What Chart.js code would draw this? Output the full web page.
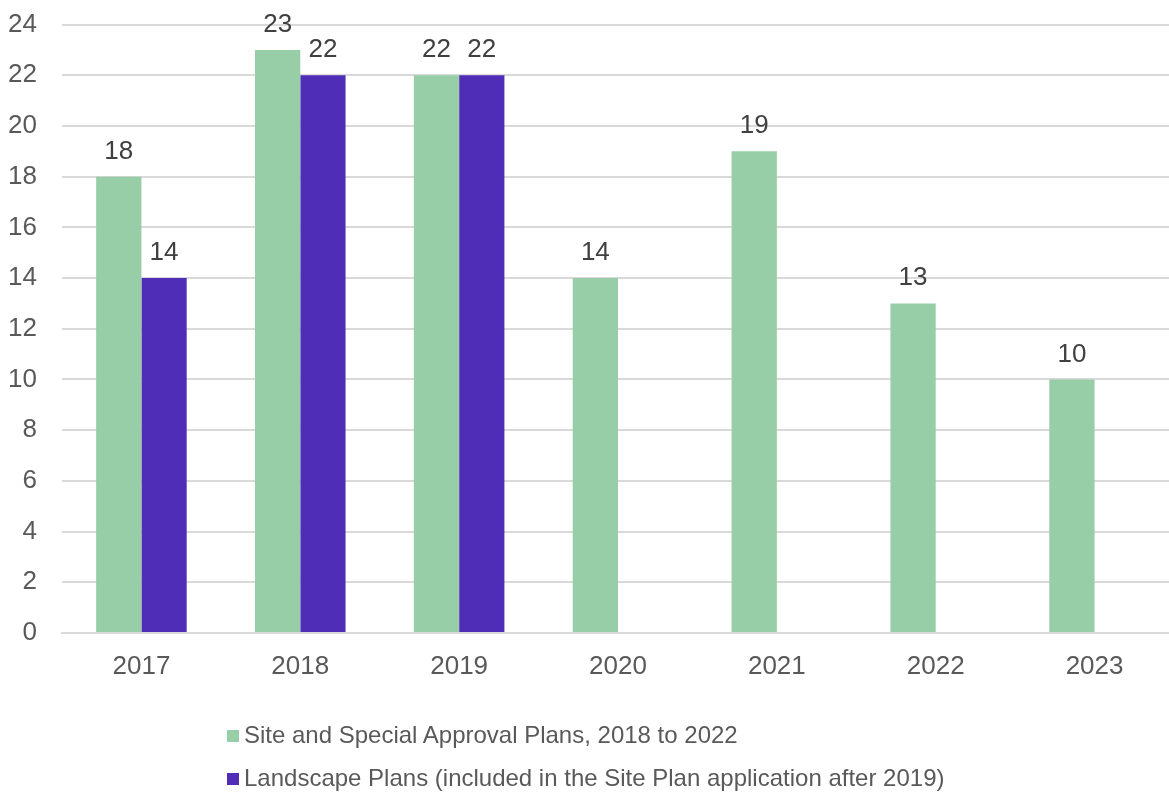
<!DOCTYPE html>
<html>
<head>
<meta charset="utf-8">
<script src="https://cdn.jsdelivr.net/npm/chart.js@4/dist/chart.umd.min.js"></script>
<style>
  html, body { margin: 0; padding: 0; background: #fff; overflow: hidden; width: 1169px; height: 796px; }
  #wrap { position: absolute; left: 0; top: -16px; width: 1175px; height: 716px; }
  #legend { position: absolute; left: 0; top: 0; width: 1169px; height: 796px; pointer-events: none;
            font-family: "Liberation Sans", Arial, sans-serif; font-size: 24px; color: #595959; }
  .item { position: absolute; left: 227px; line-height: 28px; white-space: nowrap; }
  .sw { display: inline-block; width: 12px; height: 12px; margin-right: 5px; vertical-align: 1px; }
</style>
</head>
<body>
<div id="wrap"><canvas id="c" width="1175" height="716"></canvas></div>
<div id="legend"></div>
<script>
const categories = ["2017", "2018", "2019", "2020", "2021", "2022", "2023"];
const sitePlans = [18, 23, 22, 14, 19, 13, 10];
const landscapePlans = [14, 22, 22, null, null, null, null];
const seriesNames = ["Site and Special Approval Plans, 2018 to 2022",
                     "Landscape Plans (included in the Site Plan application after 2019)"];
const seriesColors = ["#98CEA7", "#4F2DB7"];

const FONT = "'Liberation Sans', Arial, sans-serif";

const valueLabels = {
  id: 'valueLabels',
  afterDatasetsDraw(chart) {
    const ctx = chart.ctx;
    ctx.save();
    ctx.font = "26px " + FONT;
    ctx.fillStyle = "#404040";
    ctx.textAlign = "center";
    ctx.textBaseline = "alphabetic";
    chart.data.datasets.forEach((ds, i) => {
      const meta = chart.getDatasetMeta(i);
      meta.data.forEach((bar, j) => {
        const v = ds.data[j];
        if (v === null || v === undefined) return;
        ctx.fillText(String(v), bar.x, bar.y - 18);
      });
    });
    ctx.restore();
  }
};

new Chart(document.getElementById('c'), {
  type: 'bar',
  data: {
    labels: categories,
    datasets: [
      { label: seriesNames[0], data: sitePlans, backgroundColor: seriesColors[0] },
      { label: seriesNames[1], data: landscapePlans, backgroundColor: seriesColors[1] }
    ]
  },
  options: {
    responsive: false,
    animation: false,
    layout: { padding: { top: 8, right: 1, bottom: 0, left: 0 } },
    datasets: { bar: { categoryPercentage: 0.57, barPercentage: 1.0 } },
    plugins: { legend: { display: false }, tooltip: { enabled: false } },
    scales: {
      x: {
        grid: { display: false, drawTicks: false },
        border: { display: true, color: "#d9d9d9", width: 2 },
        ticks: { color: "#595959", font: { family: FONT, size: 26 }, padding: 18, maxRotation: 0 },
        afterFit(s) { s.height = 67; }
      },
      y: {
        min: 0, max: 24,
        ticks: { stepSize: 2, color: "#595959", font: { family: FONT, size: 26 }, padding: 25 },
        grid: { color: "#d9d9d9", lineWidth: 2, drawTicks: false },
        border: { display: false },
        afterFit(s) { s.width = 62; }
      }
    }
  },
  plugins: [valueLabels]
});

const leg = document.getElementById('legend');
const tops = [721, 764];
seriesNames.forEach((n, i) => {
  const d = document.createElement('div');
  d.className = 'item';
  d.style.top = tops[i] + 'px';
  const sw = document.createElement('span');
  sw.className = 'sw';
  sw.style.background = seriesColors[i];
  d.appendChild(sw);
  d.appendChild(document.createTextNode(n));
  leg.appendChild(d);
});
</script>
</body>
</html>
